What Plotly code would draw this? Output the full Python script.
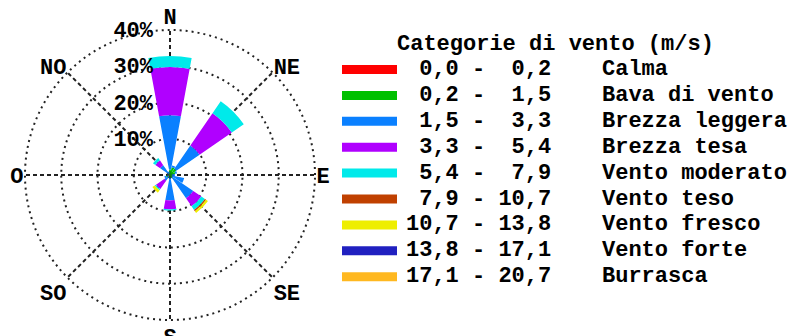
import plotly.graph_objects as go

# Direction sectors (degrees, clockwise from north)
directions = [0, 22.5, 45, 67.5, 90, 112.5, 135, 157.5,
              180, 202.5, 225, 247.5, 270, 292.5, 315, 337.5]

# Frequency (%) per speed class, one value per direction sector
calma      = [0.2, 0.0, 0.1, 0.0, 0.0, 0.0, 0.0, 0.0, 0.0, 0.0, 0.0, 0.6, 0.0, 0.0, 0.0, 0.0]
bava       = [1.3, 2.2, 2.0, 1.5, 0.6, 0.5, 0.8, 0.3, 0.8, 0.2, 0.4, 0.5, 0.3, 0.3, 0.5, 0.5]
b_leggera  = [15.0, 0.5, 7.8, 0.5, 0.8, 3.5, 7.0, 0.0, 6.2, 0.0, 1.5, 0.5, 0.4, 0.0, 2.8, 0.5]
b_tesa     = [13.3, 0.0, 10.8, 0.0, 0.0, 0.0, 2.7, 0.0, 2.5, 0.0, 2.8, 0.0, 0.0, 0.0, 1.6, 0.0]
v_moderato = [3.0, 0.0, 4.0, 0.0, 0.0, 0.0, 1.2, 0.0, 0.3, 0.0, 0.4, 0.0, 0.0, 0.0, 0.8, 0.0]
v_teso     = [0.0, 0.0, 0.0, 0.0, 0.0, 0.0, 0.4, 0.0, 0.0, 0.0, 0.0, 0.0, 0.0, 0.0, 0.0, 0.0]
v_fresco   = [0.0, 0.0, 0.0, 0.0, 0.0, 0.0, 0.6, 0.0, 0.0, 0.0, 0.8, 0.0, 0.0, 0.0, 0.0, 0.0]
v_forte    = [0.0] * 16
burrasca   = [0.0] * 16

series = [calma, bava, b_leggera, b_tesa, v_moderato, v_teso, v_fresco, v_forte, burrasca]
ranges = [("0,0", "0,2"), ("0,2", "1,5"), ("1,5", "3,3"), ("3,3", "5,4"), ("5,4", "7,9"),
          ("7,9", "10,7"), ("10,7", "13,8"), ("13,8", "17,1"), ("17,1", "20,7")]
names = ["Calma", "Bava di vento", "Brezza leggera", "Brezza tesa", "Vento moderato",
         "Vento teso", "Vento fresco", "Vento forte", "Burrasca"]
colors = ["#ff0000", "#00c000", "#0a80ff", "#b000ff", "#00eaea",
          "#c04000", "#eeee00", "#2020c0", "#ffb820"]

compass_vals = [0, 45, 90, 135, 180, 225, 270, 315]
compass_text = ["N", "NE", "E", "SE", "S", "SO", "O", "NO"]
ring_vals = [10, 20, 30, 40]
ring_text = ["10%", "20%", "30%", "40%"]
r_max = 40.3  # a little headroom so the 40% ring is drawn

FONT = dict(family="Liberation Mono", size=22, color="#000000", weight="bold")
W, H = 800, 336

# Rose centre and pixel radius of the 40% ring
cx, cy, r40 = 170, 175, 145
rad = r40 * r_max / 40

fig = go.Figure()
for vals, name, col in zip(series, names, colors):
    fig.add_trace(go.Barpolar(
        r=vals, theta=directions, width=21, name=name,
        marker=dict(color=col, line=dict(width=0)),
        showlegend=False,
    ))

fig.update_layout(
    width=W, height=H,
    margin=dict(l=0, r=0, t=0, b=0),
    paper_bgcolor="white",
    plot_bgcolor="white",
    barmode="stack",
    polar=dict(
        domain=dict(x=[(cx - rad) / W, (cx + rad) / W],
                    y=[1 - (cy + rad) / H, 1 - (cy - rad) / H]),
        bgcolor="white",
        bargap=0,
        radialaxis=dict(
            range=[0, r_max], tickvals=ring_vals,
            # trailing space keeps the labels clear of the north spoke
            ticktext=[t + "\u00a0" for t in ring_text],
            angle=90, side="counterclockwise", tickangle=90,
            showline=False, ticks="", layer="above traces",
            gridcolor="#222222", gridwidth=1.5, griddash="2px,4px",
            tickfont=FONT,
        ),
        angularaxis=dict(
            rotation=90, direction="clockwise",
            tickmode="array", tickvals=compass_vals, ticktext=compass_text,
            showline=False, ticks="", layer="above traces",
            gridcolor="#222222", gridwidth=1.5, griddash="4px,3px",
            tickfont=FONT,
        ),
    ),
)

# Legend block: title, colour swatches and class labels
leg_x0, leg_x1 = 342, 397
row0, row_step = 69.5, 25.9
fig.add_annotation(
    text="Categorie di vento (m/s)", xref="paper", yref="paper",
    x=395 / W, y=1 - 45 / H, xanchor="left", yanchor="middle",
    showarrow=False, font=FONT,
)
for i, ((lo, hi), name, col) in enumerate(zip(ranges, names, colors)):
    yc = row0 + i * row_step
    fig.add_shape(
        type="rect", xref="paper", yref="paper",
        x0=leg_x0 / W, x1=leg_x1 / W,
        y0=1 - (yc + 4.5) / H, y1=1 - (yc - 4.5) / H,
        fillcolor=col, line=dict(width=0),
    )
    fig.add_annotation(
        text=f"{lo:>4} - {hi:>4}".replace(" ", "\u00a0"), xref="paper", yref="paper",
        x=404 / W, y=1 - yc / H, xanchor="left", yanchor="middle",
        showarrow=False, font=FONT,
    )
    fig.add_annotation(
        text=name, xref="paper", yref="paper",
        x=600 / W, y=1 - yc / H, xanchor="left", yanchor="middle",
        showarrow=False, font=FONT,
    )

fig.write_html("out.html")
